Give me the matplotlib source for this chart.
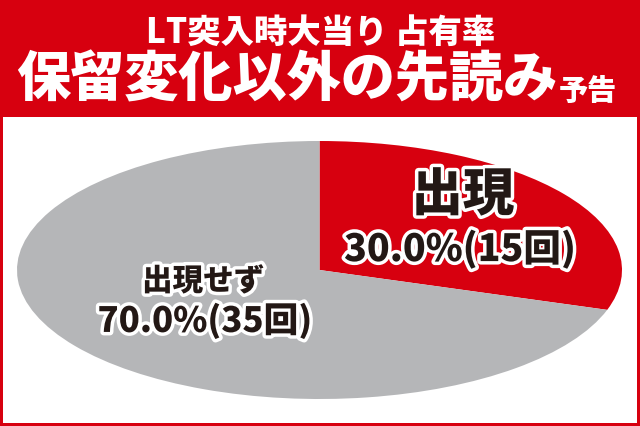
import matplotlib
matplotlib.use("Agg")
import matplotlib.pyplot as plt
import matplotlib.patheffects as pe
from matplotlib.patches import Rectangle

# Declare data
title_line1 = "LT突入時大当り 占有率"
title_line2 = "保留変化以外の先読み"
title_suffix = "予告"
slice_labels = ["出現", "出現せず"]
slice_counts = [15, 35]

# Declare style
RED = "#d7000f"
GRAY = "#b5b6b8"
INK = "#231815"
plt.rcParams['font.family'] = ['Noto Sans CJK JP', 'DejaVu Sans']

total = sum(slice_counts)
percents = [c / total * 100 for c in slice_counts]

fig = plt.figure(figsize=(6.4, 4.27), dpi=100)
fig.patch.set_facecolor(RED)

## Background axes in pixel coordinates
bg = fig.add_axes([0, 0, 1, 1])
bg.set_xlim(0, 640)
bg.set_ylim(427, 0)
bg.axis('off')
bg.add_patch(Rectangle((3, 118), 634, 306, facecolor="white", edgecolor="none"))

## Header
bg.text(321, 32, title_line1, color="white", fontsize=24, fontweight="black",
        ha="center", va="center")
t_main = bg.text(16, 80, title_line2, color="white", fontsize=39, fontweight="black",
                 ha="left", va="center")
bg.annotate(title_suffix, xy=(1.0, 0.0), xycoords=t_main, xytext=(2, 1),
            textcoords="offset pixels", color="white",
            fontsize=21, fontweight="black", ha="left", va="bottom")

## Pie (ellipse)
ax = fig.add_axes([17 / 640, 27 / 427, 605 / 640, 258 / 427])
ax.pie(slice_counts, colors=[RED, GRAY], startangle=90, counterclock=False,
       wedgeprops=dict(linewidth=0))
ax.set_aspect('auto')
ax.set_xlim(-1, 1)
ax.set_ylim(-1, 1)
ax.axis('off')

stroke = [pe.withStroke(linewidth=5, foreground="white")]

# Label for shown slice
ax.text(0.474, 0.58, slice_labels[0], color=INK, fontsize=37, fontweight="black",
        ha="center", va="center", path_effects=stroke)
ax.text(0.464, 0.16, f"{percents[0]:.1f}%({slice_counts[0]}回)", color=INK,
        fontsize=27, fontweight="black", ha="center", va="center", path_effects=stroke)

# Label for other slice
ax.text(-0.385, -0.085, slice_labels[1], color=INK, fontsize=22, fontweight="black",
        ha="center", va="center", path_effects=stroke)
ax.text(-0.379, -0.395, f"{percents[1]:.1f}%({slice_counts[1]}回)", color=INK,
        fontsize=25, fontweight="black", ha="center", va="center", path_effects=stroke)

plt.savefig("out.png", dpi=100, facecolor=RED)
